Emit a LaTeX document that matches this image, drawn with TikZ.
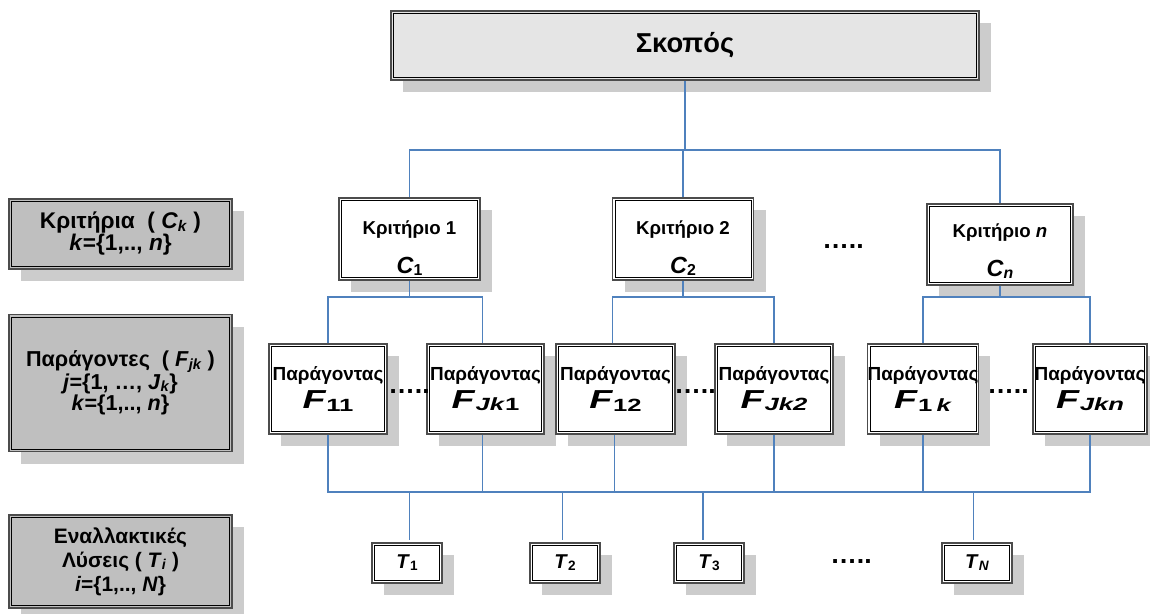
\documentclass[tikz,border=0pt]{standalone}
\usepackage{fontspec}
\setmainfont{Liberation Sans}
\usetikzlibrary{shadows}
\definecolor{linkblue}{RGB}{79,129,189}
% lowered, smaller index text
\newcommand\lo[1]{\raisebox{-0.2ex}{\scalebox{0.68}{#1}}}
% wide factor symbol
\newcommand\bigF[1]{{\fontsize{19.5}{20}\selectfont\scalebox{1.45}[1]{\textit{F}\lo{#1}}}}
\begin{document}
\begin{tikzpicture}[x=0.75pt,y=-0.75pt,
  conn/.style={draw=linkblue, line width=0.8pt},
  bord/.style={draw=black!70, line width=0.8pt,
    path picture={\draw[black, line width=0.6pt]
      ([shift={(1.8pt,-1.8pt)}]path picture bounding box.north west) rectangle
      ([shift={(-1.8pt,1.8pt)}]path picture bounding box.south east);}},
  shade/.style={drop shadow={shadow xshift=9pt, shadow yshift=-9pt, fill=black!20, opacity=1}},
  goalbox/.style={bord, fill=black!10, shade, minimum width=441pt, minimum height=51.75pt,
    font=\bfseries\fontsize{20.5}{22}\selectfont},
  critbox/.style={bord, fill=white, shade, minimum width=105.75pt, minimum height=61.5pt},
  crittext/.style={align=center, inner sep=0pt, font=\bfseries\fontsize{14}{29}\selectfont},
  facbox/.style={bord, fill=white, shade, minimum height=67.5pt, inner sep=0pt, align=center,
    font=\bfseries\fontsize{14.2}{20.5}\selectfont},
  altbox/.style={bord, fill=white, shade, minimum width=52.5pt, minimum height=30pt, inner sep=0pt,
    font=\bfseries\fontsize{15}{18}\selectfont},
  levelbox/.style={bord, fill=black!25, shade, minimum width=167.25pt, inner sep=0pt, align=center},
  dots/.style={inner sep=0pt, font=\bfseries\fontsize{20}{22}\selectfont}
]
\useasboundingbox (0,0) rectangle (1150,614);

% level labels
\node[levelbox, minimum height=52.5pt, font=\bfseries\fontsize{17}{16.5}\selectfont] (L1) at (120.5,234)
  {Κριτήρια\ \ ( \textit{C}\lo{\textit{k}} )\\ \textit{k}=\{1,.., \textit{n}\}};
\node[levelbox, minimum height=102.75pt, font=\bfseries\fontsize{16.2}{15}\selectfont] (L2) at (120.5,383)
  {Παράγοντες\ \ ( \textit{F}\lo{\textit{jk}} )\\ \textit{j}=\{1, …, \textit{J}\lo{\textit{k}}\}\\ \textit{k}=\{1,.., \textit{n}\}};
\node[levelbox, minimum height=69.75pt, font=\bfseries\fontsize{15.7}{18}\selectfont] (L3) at (120.5,561.5)
  {Εναλλακτικές\\ Λύσεις ( \textit{T}\lo{\textit{i}} )\\ \textit{i}=\{1,.., \textit{N}\}};

% goal
\node[goalbox] (goal) at (685,45.5) {Σκοπός};

% criteria
\node[critbox] (C1) at (409.5,239) {};
\node[critbox] (C2) at (683,239) {};
\node[critbox, minimum width=109.5pt, minimum height=60.75pt] (Cn) at (1000,244.5) {};
\node[crittext] (C1t) at ([yshift=-7pt]C1.center) {Κριτήριο 1\\ {\fontsize{17.5}{20}\selectfont\textit{C}\lo{1}}};
\node[crittext] (C2t) at ([yshift=-7pt]C2.center) {Κριτήριο 2\\ {\fontsize{17.5}{20}\selectfont\textit{C}\lo{2}}};
\node[crittext] (Cnt) at ([yshift=-5pt]Cn.center) {Κριτήριο \textit{n}\\ {\fontsize{17.5}{20}\selectfont\textit{C}\lo{\textit{n}}}};

% factors
\node[facbox, minimum width=88.5pt] (F11) at (328,389) {Παράγοντας\\ \bigF{11}};
\node[facbox, minimum width=87.75pt] (FJk1) at (485.5,389) {Παράγοντας\\ \bigF{\textit{Jk}1}};
\node[facbox, minimum width=89.25pt] (F12) at (615.5,389) {Παράγοντας\\ \bigF{12}};
\node[facbox, minimum width=88.5pt] (FJk2) at (774,389) {Παράγοντας\\ \bigF{\textit{Jk2}}};
\node[facbox, minimum width=82.5pt] (F1k) at (923,389) {Παράγοντας\\ \bigF{1\,\textit{k}}};
\node[facbox, minimum width=85.5pt] (FJkn) at (1090,389) {Παράγοντας\\ \bigF{\textit{Jkn}}};

% alternatives
\node[altbox] (T1) at (407,563) {\textit{T}\lo{1}};
\node[altbox] (T2) at (565,563) {\textit{T}\lo{2}};
\node[altbox] (T3) at (709,563) {\textit{T}\lo{3}};
\node[altbox] (TN) at (977,563) {\textit{T}\lo{\textit{N}}};

% ellipses
\node[dots] (dC) at (843,247) {…..};
\node[dots] (dF1) at (409,392) {…..};
\node[dots] (dF2) at (695,392) {…..};
\node[dots] (dF3) at (1008,392) {…..};
\node[dots] (dT) at (851,562) {…..};

% bus levels
\coordinate (top) at (0,150);
\coordinate (mid) at (0,297);
\coordinate (bot) at (0,492);

% goal to criteria
\draw[conn] (goal.south) -- (goal.south |- top);
\draw[conn] (C1.north) -- (C1.north |- top) -- (Cn.north |- top) -- (Cn.north);
\draw[conn] (C2.north) -- (C2.north |- top);

% criteria to factors
\draw[conn] (C1.south) -- (C1.south |- mid);
\draw[conn] (F11.north) -- (F11.north |- mid) -- ([xshift=-2pt]FJk1.north |- mid) -- ([xshift=-2pt]FJk1.north);
\draw[conn] (C2.south) -- (C2.south |- mid);
\draw[conn] ([xshift=-2pt]F12.north) -- ([xshift=-2pt]F12.north |- mid) -- (FJk2.north |- mid) -- (FJk2.north);
\draw[conn] (Cn.south) -- (Cn.south |- mid);
\draw[conn] (F1k.north) -- (F1k.north |- mid) -- (FJkn.north |- mid) -- (FJkn.north);

% factors to alternatives
\draw[conn] (F11.south) -- (F11.south |- bot) -- (FJkn.south |- bot) -- (FJkn.south);
\draw[conn] ([xshift=-2pt]FJk1.south) -- ([xshift=-2pt]FJk1.south |- bot);
\draw[conn] ([xshift=-1pt]F12.south) -- ([xshift=-1pt]F12.south |- bot);
\draw[conn] (FJk2.south) -- (FJk2.south |- bot);
\draw[conn] (F1k.south) -- (F1k.south |- bot);
\foreach \t/\dx in {T1/2, T2/-2, T3/-4.5, TN/-2.5}
  \draw[conn, shorten >=2pt] ([xshift=\dx pt]\t.north |- bot) -- ([xshift=\dx pt]\t.north);
\end{tikzpicture}
\end{document}
